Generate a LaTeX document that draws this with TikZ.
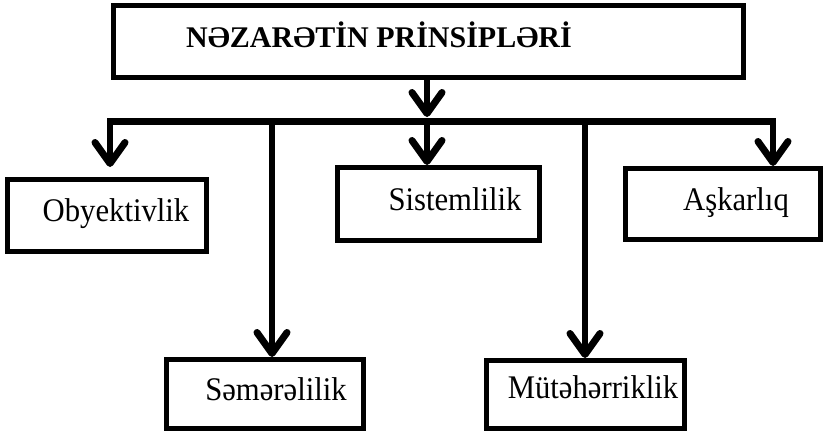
\documentclass[tikz,border=0pt]{standalone}
\usepackage{fontspec}
\setmainfont{Liberation Serif}
\newfontfamily\lblfont[FakeStretch=0.93]{Liberation Serif}
\usetikzlibrary{arrows.meta,calc}

\tikzset{
  box/.style={draw=black, line width=5pt, inner sep=0pt, fill=white},
  lbl/.style={anchor=base, inner sep=0pt, font=\lblfont\fontsize{33}{33}\selectfont},
  ttl/.style={anchor=base, inner sep=0pt, font=\fontsize{30}{30}\selectfont\bfseries},
  bus/.style={line width=7pt},
  conn/.style={line width=6pt,
    -{Straight Barb[length=21pt,width=30pt,line width=7pt,round]}},
}

\begin{document}
\begin{tikzpicture}[x=1pt,y=-1pt]
  \useasboundingbox (0,0) rectangle (824,432);

  % boxes
  \node[box, minimum width=630pt, minimum height=72pt] (title) at (428.5,41.5) {};
  \node[box, minimum width=199pt, minimum height=72pt] (obj) at (107,215.5) {};
  \node[box, minimum width=202pt, minimum height=73pt] (sis) at (438.5,204) {};
  \node[box, minimum width=195pt, minimum height=71pt] (ask) at (723,204) {};
  \node[box, minimum width=197pt, minimum height=69pt] (sem) at (265,394) {};
  \node[box, minimum width=198pt, minimum height=68pt] (mut) at (585.5,394.5) {};

  % texts
  \node[ttl] (ttitle) at (379,47) {NƏZARƏTİN PRİNSİPLƏRİ};
  \node[lbl] (tobj) at (116,221) {Obyektivlik};
  \node[lbl] (tsis) at (455,210) {Sistemlilik};
  \node[lbl] (task) at (736,210) {Aşkarlıq};
  \node[lbl] (tsem) at (276,400) {Səmərəlilik};
  \node[lbl] (tmut) at (593,398) {Mütəhərriklik};

  % junction points on the distribution bar
  \coordinate (hub) at (427,121);
  \coordinate (hubtop) at (427,117);
  \coordinate (busl) at (107,121);
  \coordinate (busr) at (776,121);
  \coordinate (dl) at (110,121);
  \coordinate (dsem) at (272,121);
  \coordinate (dmut) at (585,121);
  \coordinate (dr) at (773,121);
  \coordinate (objtip) at (110,167);

  % distribution bar
  \draw[bus] (busl) -- (busr);

  % connectors
  \draw[conn] (title.south -| hub) -- (hubtop);
  \draw[conn] (dl) -- (objtip);
  \draw[conn] (hub) -- (hub |- sis.north);
  \draw[conn] (dsem) -- (dsem |- sem.north);
  \draw[conn] (dmut) -- (dmut |- mut.north);
  \draw[conn] (dr) -- (dr |- ask.north);
\end{tikzpicture}
\end{document}
